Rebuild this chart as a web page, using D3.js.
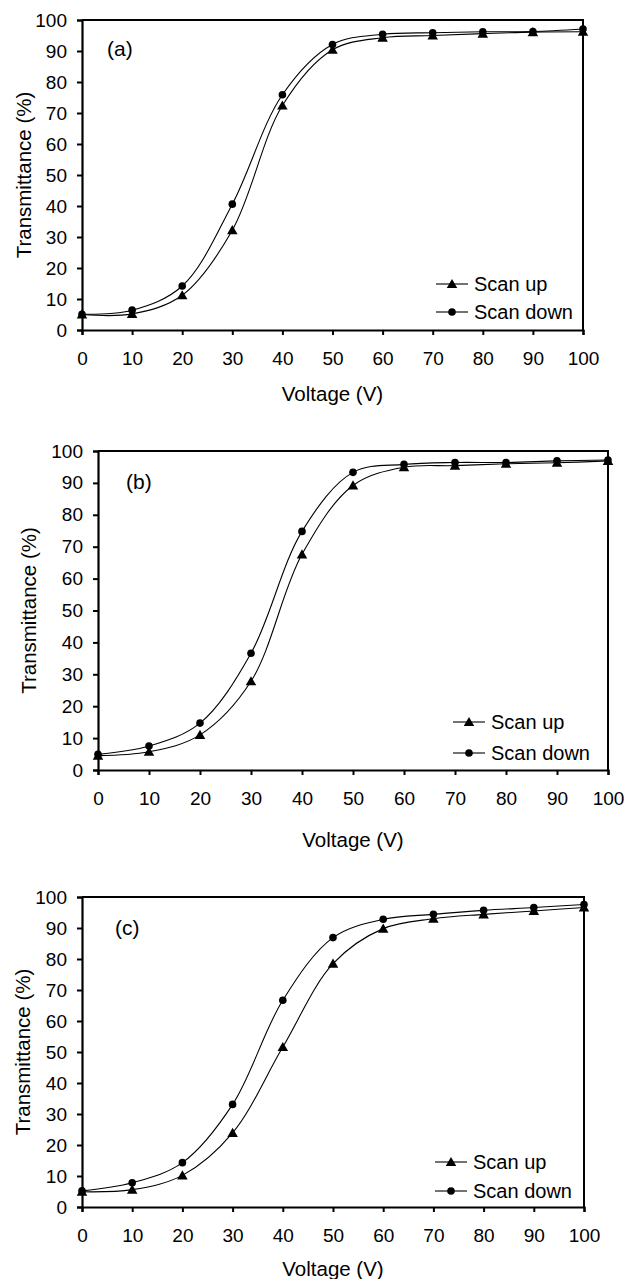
<!DOCTYPE html>
<html>
<head>
<meta charset="utf-8">
<script src="https://cdn.jsdelivr.net/npm/d3@7"></script>
<style>
  html, body { margin: 0; padding: 0; background: #fff; }
  svg { display: block; font-family: "Liberation Sans", Arial, sans-serif; }
</style>
</head>
<body>
<svg id="chart" width="624" height="1279"></svg>
<script>
// ---- Data ----
const voltage = [0, 10, 20, 30, 40, 50, 60, 70, 80, 90, 100];
const xTicks = [0, 10, 20, 30, 40, 50, 60, 70, 80, 90, 100];
const yTicks = [0, 10, 20, 30, 40, 50, 60, 70, 80, 90, 100];
const panelLabels = ["(a)", "(b)", "(c)"];
const seriesNames = ["Scan up", "Scan down"];

const scanUpA   = [5.0, 5.2, 11.2, 32.2, 72.4, 90.4, 94.3, 95.0, 95.6, 96.1, 96.2];
const scanDownA = [5.1, 6.4, 14.2, 40.6, 75.9, 92.1, 95.4, 95.9, 96.2, 96.3, 97.1];
const scanUpB   = [4.5, 5.7, 11.0, 27.8, 67.6, 89.2, 94.9, 95.4, 96.0, 96.3, 96.9];
const scanDownB = [4.9, 7.5, 14.7, 36.6, 74.8, 93.3, 95.8, 96.4, 96.4, 96.9, 97.2];
const scanUpC   = [4.9, 5.6, 10.2, 23.9, 51.6, 78.5, 89.8, 93.0, 94.4, 95.5, 96.6];
const scanDownC = [5.2, 7.8, 14.3, 33.1, 66.7, 86.9, 92.8, 94.4, 95.7, 96.6, 97.6];

const xTitle = "Voltage (V)";
const yTitle = "Transmittance (%)";

// ---- Layout ----
const panels = [
  { up: scanUpA, down: scanDownA, x0: 82,   x1: 583, y0: 20,  y1: 330,
    lab: [107, 48],  leg: [436, 284], legGap: 28, yTitleX: 23, xTitleY: 393 },
  { up: scanUpB, down: scanDownB, x0: 98,   x1: 608, y0: 451, y1: 770,
    lab: [126, 481], leg: [453, 722], legGap: 31, yTitleX: 28, xTitleY: 839 },
  { up: scanUpC, down: scanDownC, x0: 82,   x1: 584, y0: 897, y1: 1207,
    lab: [115, 927], leg: [435, 1162], legGap: 29, yTitleX: 22, xTitleY: 1268 }
];

const svg = d3.select("#chart");
const FS_TICK = 19, FS_TITLE = 20.5, FS_LEG = 20, FS_LAB = 21;
const triangle = d3.symbol().type(d3.symbolTriangle).size(48);

panels.forEach((p, i) => {
  const x = d3.scaleLinear().domain([0, 100]).range([p.x0, p.x1]);
  const y = d3.scaleLinear().domain([0, 100]).range([p.y1, p.y0]);
  const g = svg.append("g");

  // frame (top & right)
  g.append("path")
    .attr("d", `M${p.x0},${p.y0}H${p.x1}V${p.y1}`)
    .attr("fill", "none").attr("stroke", "#000").attr("stroke-width", 2);

  // axes
  const xa = g.append("g").attr("transform", `translate(0,${p.y1})`)
    .call(d3.axisBottom(x).tickValues(xTicks).tickSize(5).tickPadding(17).tickFormat(d3.format("d")));
  const ya = g.append("g").attr("transform", `translate(${p.x0},0)`)
    .call(d3.axisLeft(y).tickValues(yTicks).tickSize(5).tickPadding(10).tickFormat(d3.format("d")));
  [xa, ya].forEach(a => {
    a.select(".domain").attr("stroke", "#000").attr("stroke-width", 2.2);
    a.selectAll(".tick line").attr("stroke", "#000").attr("stroke-width", 2);
    a.selectAll(".tick text").attr("font-size", FS_TICK).attr("fill", "#000")
      .attr("font-family", "Liberation Sans, Arial, sans-serif");
  });

  // titles
  g.append("text").attr("x", (p.x0 + p.x1) / 2).attr("y", p.xTitleY)
    .attr("text-anchor", "middle").attr("dominant-baseline", "central")
    .attr("font-size", FS_TITLE).text(xTitle);
  g.append("text")
    .attr("transform", `translate(${p.yTitleX},${(p.y0 + p.y1) / 2}) rotate(-90)`)
    .attr("text-anchor", "middle").attr("dominant-baseline", "central")
    .attr("font-size", FS_TITLE).text(yTitle);

  // panel label
  g.append("text").attr("x", p.lab[0]).attr("y", p.lab[1])
    .attr("dominant-baseline", "central").attr("font-size", FS_LAB).text(panelLabels[i]);

  // curves
  const line = d3.line().x((d, j) => x(voltage[j])).y(d => y(d))
    .curve(d3.curveCatmullRom.alpha(0.5));
  [p.up, p.down].forEach(s => {
    g.append("path").attr("d", line(s)).attr("fill", "none")
      .attr("stroke", "#000").attr("stroke-width", 1.1);
  });

  // markers
  g.selectAll(".tri").data(p.up).join("path")
    .attr("d", triangle)
    .attr("transform", (d, j) => `translate(${x(voltage[j])},${y(d) + 1})`)
    .attr("fill", "#000");
  g.selectAll(".cir").data(p.down).join("circle")
    .attr("cx", (d, j) => x(voltage[j])).attr("cy", d => y(d)).attr("r", 3.8)
    .attr("fill", "#000");

  // legend
  seriesNames.forEach((name, k) => {
    const ly = p.leg[1] + k * p.legGap;
    const lx = p.leg[0];
    g.append("line").attr("x1", lx).attr("x2", lx + 32).attr("y1", ly).attr("y2", ly)
      .attr("stroke", "#000").attr("stroke-width", 1.1);
    if (k === 0) {
      g.append("path").attr("d", triangle).attr("transform", `translate(${lx + 16},${ly + 1})`).attr("fill", "#000");
    } else {
      g.append("circle").attr("cx", lx + 16).attr("cy", ly).attr("r", 3.8).attr("fill", "#000");
    }
    g.append("text").attr("x", lx + 38).attr("y", ly)
      .attr("dominant-baseline", "central").attr("font-size", FS_LEG).text(name);
  });
});
</script>
</body>
</html>
